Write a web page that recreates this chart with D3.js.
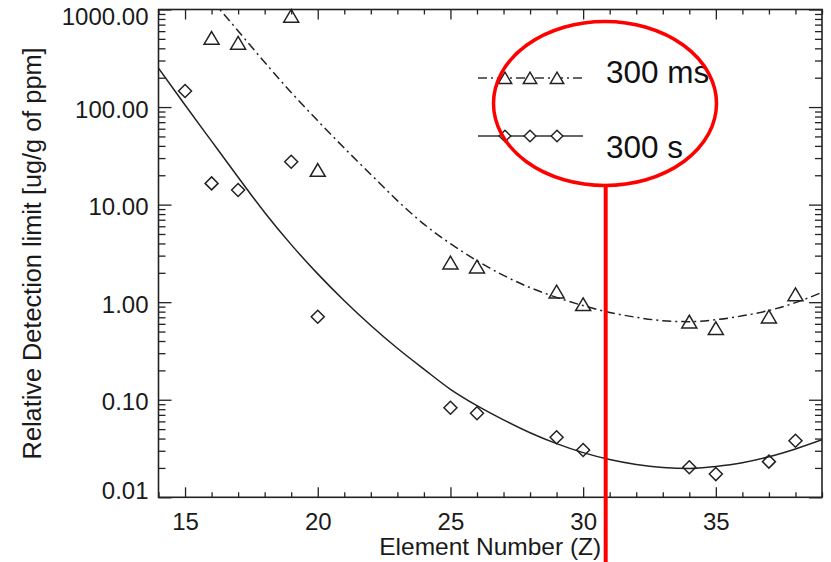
<!DOCTYPE html>
<html>
<head>
<meta charset="utf-8">
<script src="https://cdn.jsdelivr.net/npm/d3@7"></script>
<style>
  body { margin: 0; background: #fff; }
  svg { display: block; font-family: "Liberation Sans", Arial, Helvetica, sans-serif; }
  .axis path.domain { display: none; }
  .axis line { stroke: #222; stroke-width: 1.3; }
  .axis text { fill: #1a1a1a; font-size: 24px; }
</style>
</head>
<body>
<svg id="chart"></svg>
<script>
// measured points, 300 ms exposure (triangles)
const fastZ = [16, 17, 19, 20, 25, 26, 29, 30, 34, 35, 37, 38]
const fastLimit = [510, 454, 858, 22.6, 2.54, 2.31, 1.28, 0.95, 0.63, 0.54, 0.71, 1.2]

// measured points, 300 s exposure (diamonds)
const slowZ = [15, 16, 17, 19, 20, 25, 26, 29, 30, 34, 35, 37, 38]
const slowLimit = [146, 16.5, 14.1, 27.5, 0.71, 0.0829, 0.0726, 0.0412, 0.0305, 0.0203, 0.0173, 0.0232, 0.038]

// fitted curves
const fastFitZ = [16, 17, 18, 19, 20, 21, 22, 23, 24, 25, 26, 27, 28, 29, 30, 31, 32, 33, 34, 35, 36, 37, 38, 39]
const fastFit = [1259, 603, 288, 141, 72.4, 38.0, 20.4, 11.0, 6.31, 3.98, 2.66, 1.88, 1.41, 1.12, 0.923,
  0.785, 0.700, 0.646, 0.631, 0.661, 0.724, 0.822, 0.989, 1.26]
const slowFitZ = [14, 15, 16, 17, 18, 19, 20, 21, 22, 23, 24, 25, 26, 27, 28, 29, 30, 31, 32, 33, 34, 35, 36, 37, 38, 39]
const slowFit = [251, 105, 44.7, 19.1, 8.32, 3.89, 1.95, 1.035, 0.577, 0.337, 0.206, 0.128, 0.0870, 0.0622,
  0.0459, 0.0355, 0.0287, 0.0244, 0.0217, 0.0202, 0.0197, 0.0207, 0.0226, 0.026, 0.0313, 0.0389]

const xMajor = [15, 20, 25, 30, 35]
const yMajor = [0.01, 0.1, 1, 10, 100, 1000]
const seriesNames = ['300 ms', '300 s']

const width = 831, height = 562
const plot = {left: 158.5, right: 822, top: 9.5, bottom: 497.3}
const ink = '#222'

const svg = d3.select('#chart')
  .attr('width', width)
  .attr('height', height)

const x = d3.scaleLinear().domain([14, 39]).range([plot.left, plot.right])
const y = d3.scaleLog().domain([0.01, 1000]).range([plot.bottom, plot.top])

const xMinor = d3.range(14, 40).filter(v => !xMajor.includes(v))
const yMinor = []
yMajor.slice(0, -1).forEach(d => { for (let k = 2; k <= 9; k++) yMinor.push(d * k) })

// axes: labelled major ticks plus unlabelled minor ticks, mirrored on the opposite sides
const addAxis = (axis, values, size, tx, ty, labels, pad) => {
  const a = axis.tickValues(values).tickSize(size).tickSizeOuter(0).tickPadding(pad || 3)
  if (!labels) a.tickFormat('')
  else a.tickFormat(labels)
  return svg.append('g')
    .attr('class', 'axis')
    .attr('transform', `translate(${tx}, ${ty})`)
    .call(a)
}
addAxis(d3.axisBottom(x), xMajor, -10, 0, plot.bottom, d3.format('d'), 16)
addAxis(d3.axisBottom(x), xMinor, -5, 0, plot.bottom)
addAxis(d3.axisTop(x), xMajor, -10, 0, plot.top)
addAxis(d3.axisTop(x), xMinor, -5, 0, plot.top)
addAxis(d3.axisLeft(y), yMajor, -13, plot.left, 0, d3.format('.2f'), 10)
  .selectAll('text')
  .attr('dy', d => d === 1000 ? '0.63em' : d === 0.01 ? '0.06em' : '0.42em')
addAxis(d3.axisLeft(y), yMinor, -7, plot.left, 0)
addAxis(d3.axisRight(y), yMajor, -13, plot.right, 0)
addAxis(d3.axisRight(y), yMinor, -7, plot.right, 0)

svg.append('rect')
  .attr('x', plot.left)
  .attr('y', plot.top)
  .attr('width', plot.right - plot.left)
  .attr('height', plot.bottom - plot.top)
  .attr('fill', 'none')
  .attr('stroke', ink)
  .attr('stroke-width', 1.6)

svg.append('clipPath').attr('id', 'clip')
  .append('rect')
  .attr('x', plot.left).attr('y', plot.top)
  .attr('width', plot.right - plot.left).attr('height', plot.bottom - plot.top)

const line = d3.line()
  .x(d => x(d[0]))
  .y(d => y(d[1]))
  .curve(d3.curveMonotoneX)

const dashDot = '9,4,2,4'

svg.append('path')
  .datum(fastFitZ.map((z, i) => [z, fastFit[i]]))
  .attr('clip-path', 'url(#clip)')
  .attr('d', line)
  .attr('fill', 'none')
  .attr('stroke', ink)
  .attr('stroke-width', 1.5)
  .attr('stroke-dasharray', dashDot)

svg.append('path')
  .datum(slowFitZ.map((z, i) => [z, slowFit[i]]))
  .attr('clip-path', 'url(#clip)')
  .attr('d', line)
  .attr('fill', 'none')
  .attr('stroke', ink)
  .attr('stroke-width', 1.5)

const triangle = 'M0,-6.5L7.5,6.2L-7.5,6.2Z'
const diamond = 'M0,-6.5L6.5,0L0,6.5L-6.5,0Z'

svg.selectAll('.tri')
  .data(fastZ.map((z, i) => [z, fastLimit[i]]))
  .enter().append('path')
    .attr('class', 'tri')
    .attr('d', triangle)
    .attr('transform', d => `translate(${x(d[0])}, ${y(d[1])})`)
    .attr('fill', 'none')
    .attr('stroke', ink)
    .attr('stroke-width', 1.5)

svg.selectAll('.dia')
  .data(slowZ.map((z, i) => [z, slowLimit[i]]))
  .enter().append('path')
    .attr('class', 'dia')
    .attr('d', diamond)
    .attr('transform', d => `translate(${x(d[0])}, ${y(d[1])})`)
    .attr('fill', 'none')
    .attr('stroke', ink)
    .attr('stroke-width', 1.5)

// legend
const legend = svg.append('g').attr('transform', 'translate(478, 78)')
const legendRows = [{marker: triangle, dash: dashDot}, {marker: diamond, dash: null}]
legendRows.forEach((r, i) => {
  const g = legend.append('g').attr('transform', `translate(0, ${i * 58})`)
  g.append('line')
    .attr('x1', 0).attr('x2', 105)
    .attr('stroke', '#333')
    .attr('stroke-width', 1.5)
    .attr('stroke-dasharray', r.dash)
  g.selectAll('path')
    .data([27, 52, 79])
    .enter().append('path')
      .attr('d', r.marker)
      .attr('transform', d => `translate(${d}, 0) scale(0.9)`)
      .attr('fill', '#fff')
      .attr('stroke', ink)
      .attr('stroke-width', 1.6)
})
legend.selectAll('text')
  .data(seriesNames)
  .enter().append('text')
    .attr('x', 128)
    .attr('y', (d, i) => 5 + i * 75)
    .attr('font-size', 31.5)
    .attr('fill', '#111')
    .text(d => d)

// axis titles
svg.append('text')
  .attr('x', (plot.left + plot.right) / 2)
  .attr('y', 555)
  .attr('text-anchor', 'middle')
  .attr('font-size', 24.5)
  .attr('fill', '#1a1a1a')
  .text('Element Number (Z)')

svg.append('text')
  .attr('transform', `translate(41, ${(plot.top + plot.bottom) / 2}) rotate(-90)`)
  .attr('text-anchor', 'middle')
  .attr('font-size', 25.3)
  .attr('fill', '#1a1a1a')
  .text('Relative Detection limit [ug/g of ppm]')

// red annotation drawn over the chart
const note = svg.append('g')
note.append('ellipse')
  .attr('cx', 605).attr('cy', 103.5)
  .attr('rx', 111.5).attr('ry', 82)
  .attr('fill', 'none')
  .attr('stroke', '#ff0000')
  .attr('stroke-width', 3.5)
note.append('line')
  .attr('x1', x(30.85)).attr('x2', x(30.85))
  .attr('y1', 185.5).attr('y2', height)
  .attr('stroke', '#ff0000')
  .attr('stroke-width', 4)
</script>
</body>
</html>
